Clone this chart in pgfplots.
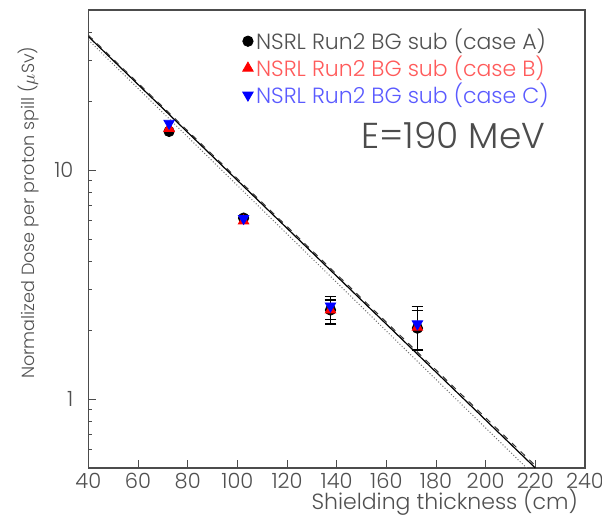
\documentclass[border=0pt]{standalone}
\usepackage{pgfplots}
\pgfplotsset{compat=1.18}
\usepackage{fontspec}
\setmainfont{Poppins}[UprightFont=* Light]
\definecolor{txtgray}{HTML}{505050}
\definecolor{legred}{HTML}{FF5A5A}
\definecolor{legblue}{HTML}{5A5AFF}
\begin{document}
\begin{tikzpicture}
\begin{axis}[
  scale only axis,
  width=248.3pt, height=229pt,
  xmin=40, xmax=240, ymin=0.5, ymax=50,
  ymode=log,
  axis line style={draw=black!70, line width=0.6pt},
  xtick={40,60,...,240},
  ytick={1,10}, yticklabels={1,10},
  minor ytick={0.6,0.7,0.8,0.9,2,3,4,5,6,7,8,9,20,30,40},
  xtick pos=left, ytick pos=left,
  tick align=inside,
  major tick length=4pt, minor tick length=2pt,
  every tick/.style={black!70, line width=0.5pt},
  /pgf/number format/assume math mode=true,
  tick label style={font=\fontsize{10.5}{12}\selectfont, text=txtgray},
  xticklabel style={yshift=1pt},
  yticklabel style={xshift=-4pt},
  xlabel={Shielding thickness (cm)},
  ylabel={Normalized Dose per proton spill ($\mu$Sv)},
  xlabel style={font=\fontsize{11}{12}\selectfont, text=txtgray, at={(rel axis cs:1,-0.074)}, anchor=east},
  ylabel style={font=\fontsize{8.8}{10}\selectfont, text=txtgray, at={(rel axis cs:-0.085,0.935)}, anchor=south east},
  legend style={at={(rel axis cs:0.31,0.965)}, anchor=north west, draw=none, fill=none,
    font=\fontsize{11}{11}\selectfont, row sep=-1.3pt, inner sep=0pt,
    nodes={inner sep=1.5pt}},
  legend cell align=left,
  clip=true,
]
% fit lines
\addplot[black, line width=0.6pt, forget plot] coordinates {(40,38.3) (220,0.5)};
\addplot[black!80, dashed, line width=0.5pt, forget plot] coordinates {(40,38.8) (221,0.5)};
\addplot[black!55, densely dotted, line width=0.5pt, forget plot] coordinates {(40,37.0) (216.5,0.5)};
% error bars
\addplot[black, line width=0.7pt, draw=none, mark=none, forget plot,
  error bars/.cd, y dir=both, y explicit,
  error bar style={black, line width=0.7pt},
  error mark options={rotate=90, mark size=2.9pt, black, line width=0.7pt}]
  coordinates {(137.5,2.45) +=(0,0.36) -=(0,0.32) (172.5,2.04) +=(0,0.50) -=(0,0.415)};
\addplot[black, line width=0.7pt, draw=none, mark=none, forget plot,
  error bars/.cd, y dir=both, y explicit,
  error bar style={black, line width=0.7pt},
  error mark options={rotate=90, mark size=2.9pt, black, line width=0.7pt}]
  coordinates {(137.5,2.45) +=(0,0.26) -=(0,0.23) (172.5,2.04) +=(0,0.40) -=(0,0.40)};
% data
\addplot[only marks, mark=*, mark size=2.6pt, black] coordinates {
  (72.5,14.75) (102.5,6.17) (137.5,2.45) (172.5,2.04)};
\addlegendentry{\textcolor{txtgray}{NSRL Run2 BG sub (case A)}}
\addplot[only marks, mark=triangle*, mark size=3pt, red] coordinates {
  (72.5,15.2) (102.5,6.0) (137.5,2.45) (172.5,2.06)};
\addlegendentry{\textcolor{legred}{NSRL Run2 BG sub (case B)}}
\addplot[only marks, mark=triangle*, mark options={rotate=180}, mark size=3pt, blue] coordinates {
  (72.5,16.0) (102.5,6.15) (137.5,2.55) (172.5,2.13)};
\addlegendentry{\textcolor{legblue}{NSRL Run2 BG sub (case C)}}
\node[font=\fontsize{18}{20}\selectfont, text=black!70] at (rel axis cs:0.735,0.727) {E=190 MeV};
\end{axis}
\pgfresetboundingbox
\path[use as bounding box] ([xshift=-44.2pt, yshift=-23pt]current axis.south west) rectangle ([xshift=8.5pt, yshift=5pt]current axis.north east);
\end{tikzpicture}
\end{document}
